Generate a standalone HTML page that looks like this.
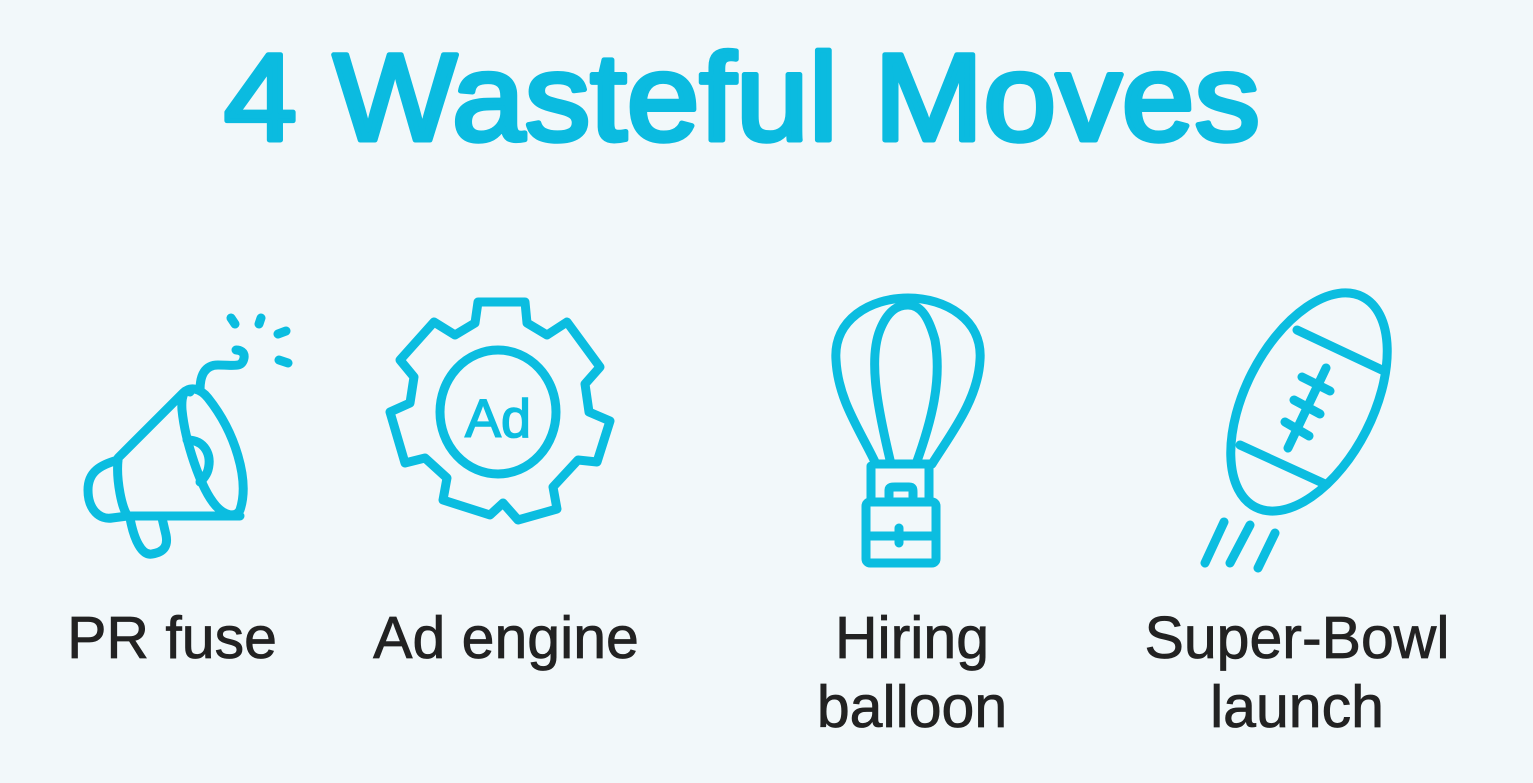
<!DOCTYPE html>
<html><head><meta charset="utf-8"><style>
html,body{margin:0;padding:0;background:#f2f8fa;}
svg{display:block}
</style></head><body>
<svg width="1533" height="783" viewBox="0 0 1533 783" xmlns="http://www.w3.org/2000/svg">
<rect width="1533" height="783" fill="#f2f8fa"/>
<text x="742" y="140" text-anchor="middle" font-family="Liberation Sans, sans-serif" font-size="124" fill="#0bbbe0" stroke="#0bbbe0" stroke-width="5" stroke-linejoin="round" textLength="1036" lengthAdjust="spacingAndGlyphs">4 Wasteful Moves</text>
<g fill="none" stroke="#0bbde0" stroke-width="9" stroke-linecap="round" stroke-linejoin="round">
<!-- megaphone -->
<path d="M118,458 L183,393 C190,386 200,388 208,398 C235,432 250,480 240,510 C236,518 225,516 216,506 C200,488 185,440 182,410 C181,395 185,388 190,392"/>
<path d="M118,460 C100,465 88,472 88,490 C88,510 100,520 112,518 L128,516 L240,516"/>
<path d="M118,460 C116,480 122,510 128,516"/>
<path d="M187,440 C205,440 212,455 208,470 C206,477 200,482 200,482"/>
<path d="M130,518 C134,540 142,556 152,554 C165,552 168,545 166,535 L162,518"/>
<path d="M200,390 C200,375 205,365 218,365 C235,365 242,368 244,358 C245,352 240,350 236,350"/>
<path d="M231,318 L235,324 M261,318 L259,324 M278,334 L286,331 M279,360 L288,363"/>
<!-- gear -->
<path d="M478,302 L525,302 L527,323 L547,335 L567,322 L600,367 L585,384 L589,412 L610,421 L597,462 L578,460 L553,487 L557,509 L518,520 L503,503 L490,515 L443,500 L447,478 L425,458 L405,463 L390,412 L410,403 L414,377 L400,360 L434,322 L455,335 L475,323 Z"/>
<ellipse cx="498" cy="412" rx="58" ry="62"/>
<!-- balloon -->
<path d="M876,464 C860,430 838,400 836,360 C833,320 870,298 908,298 C946,298 983,320 980,360 C978,400 950,435 932,464 Z"/>
<path d="M891,464 C878,410 868,360 880,330 C888,310 898,305 908,305 C920,305 928,315 935,340 C942,380 932,420 916,464"/>
<path d="M871,466 L871,498 M929,466 L929,498"/>
<path d="M889,497 L889,490 C889,487 892,487 895,487 L909,487 C913,487 913,489 913,492 L913,497"/>
<rect x="866" y="502" width="70" height="61" rx="4"/>
<path d="M866,536 L936,536 M899,528 L899,543"/>
<!-- football -->
<ellipse cx="1309" cy="402" rx="118" ry="64" transform="rotate(-63 1309 402)"/>
<path d="M1297,330 L1382,370 M1240,445 L1325,484"/>
<path d="M1326,368 L1288,448 M1302,377 L1330,391 M1294,400 L1320,414 M1285,422 L1309,436"/>
<path d="M1205,563 L1224,522 M1230,563 L1250,525 M1258,568 L1275,533"/>
</g>
<text x="498" y="437" text-anchor="middle" font-family="Liberation Sans, sans-serif" font-size="54" fill="#0bbde0" stroke="#0bbde0" stroke-width="1.5">Ad</text>
<g font-family="Liberation Sans, sans-serif" font-size="59" fill="#222" stroke="#222" stroke-width="0.8" text-anchor="middle">
<text x="172" y="658">PR fuse</text>
<text x="506" y="658">Ad engine</text>
<text x="912" y="658">Hiring</text>
<text x="912" y="727">balloon</text>
<text x="1297" y="658">Super-Bowl</text>
<text x="1297" y="727">launch</text>
</g>
</svg>
</body></html>
